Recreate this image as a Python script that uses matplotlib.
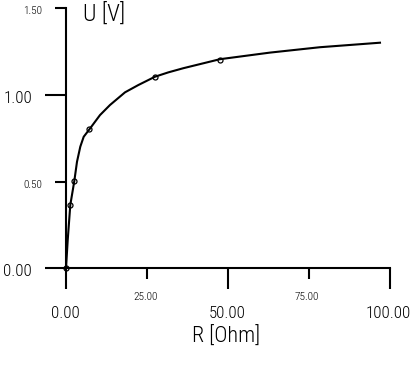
import matplotlib
matplotlib.use("Agg")
import matplotlib.pyplot as plt
from matplotlib.transforms import offset_copy, blended_transform_factory

# ---- data ----
R_curve = [0, 0.53, 1.33, 2.57, 3.40, 4.42, 5.47, 7.2, 10.51, 13.6, 18.24, 22.35, 27.51,
           31.62, 36.26, 47.6, 63.06, 78.5, 97.06]
U_curve = [0, 0.163, 0.365, 0.503, 0.614, 0.701, 0.758, 0.80, 0.883, 0.941, 1.014, 1.056, 1.104,
           1.129, 1.153, 1.205, 1.243, 1.274, 1.300]
R_pts = [0, 1.33, 2.57, 7.2, 27.6, 47.6]
U_pts = [0, 0.365, 0.503, 0.80, 1.10, 1.20]

x_major = [0, 50, 100]
x_major_labels = ["0.00", "50.00", "100.00"]
x_minor = [25, 75]
x_minor_labels = ["25.00", "75.00"]
y_major = [0, 1.0]
y_major_labels = ["0.00", "1.00"]
y_minor = [0.5, 1.5]
y_minor_labels = ["0.50", "1.50"]

x_title = "R [Ohm]"
y_title = "U [V]"

FONT = ['Roboto Condensed', 'DejaVu Sans']
plt.rcParams['font.family'] = FONT

W, H = 413, 369
fig = plt.figure(figsize=(W / 100, H / 100), dpi=100)
ax = fig.add_axes([66 / W, (H - 268.3) / H, 323.5 / W, 260.3 / H])
ax.set_xlim(0, 100)
ax.set_ylim(0, 1.5)

ax.plot(R_curve, U_curve, color='black', lw=1.5, clip_on=False, zorder=3)
ax.plot(R_pts, U_pts, linestyle='none', marker='o', ms=3.6, mfc='none', mec='black',
        mew=0.9, clip_on=False, zorder=4)

for s in ['top', 'right']:
    ax.spines[s].set_visible(False)
for s in ['left', 'bottom']:
    ax.spines[s].set_linewidth(1.5)

ax.set_xticks(x_major)
ax.set_xticks(x_minor, minor=True)
ax.set_yticks(y_major)
ax.set_yticks(y_minor, minor=True)
ax.tick_params(which='major', direction='out', length=15.1, width=1.5, labelbottom=False, labelleft=False)
ax.tick_params(which='minor', direction='out', length=7.9, width=1.5, labelbottom=False, labelleft=False)

# tick labels
bx = blended_transform_factory(ax.transData, ax.transAxes)
by = blended_transform_factory(ax.transAxes, ax.transData)
for v, lab in zip(x_major, x_major_labels):
    ax.text(v, 0, lab, transform=offset_copy(bx, fig=fig, x=-1, y=-44.7, units='dots'),
            ha='center', va='center', fontsize=12.2, fontweight='light', clip_on=False)
for v, lab in zip(x_minor, x_minor_labels):
    ax.text(v, 0, lab, transform=offset_copy(bx, fig=fig, x=-1.5, y=-28.7, units='dots'),
            ha='center', va='center', fontsize=8.1, fontweight='light', clip_on=False)
for v, lab in zip(y_major, y_major_labels):
    ax.text(0, v, lab, transform=offset_copy(by, fig=fig, x=-34, y=-3.5, units='dots'),
            ha='right', va='center', fontsize=12.2, fontweight='light', clip_on=False)
for v, lab in zip(y_minor, y_minor_labels):
    ax.text(0, v, lab, transform=offset_copy(by, fig=fig, x=-23.5, y=-3, units='dots'),
            ha='right', va='center', fontsize=8.1, fontweight='light', clip_on=False)

fig.text(83 / W, 1 - 14 / H, y_title, ha='left', va='center', fontsize=17, fontweight='light')
fig.text(226 / W, 1 - 337.5 / H, x_title, ha='center', va='center', fontsize=16, fontweight='light')

fig.savefig("out.png", dpi=100)
